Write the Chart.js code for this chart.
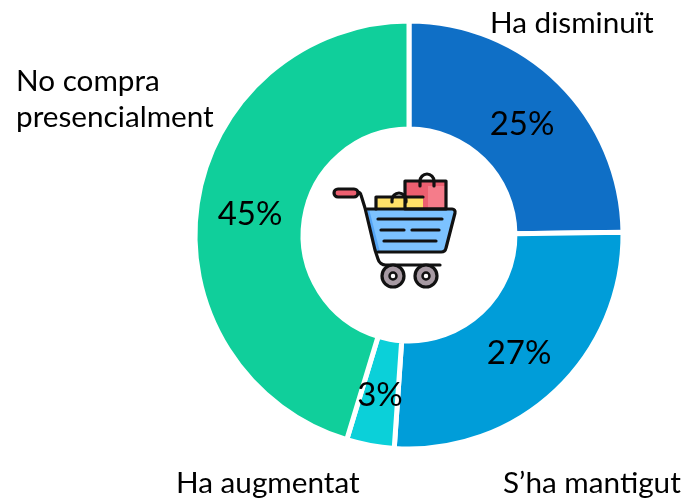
<!DOCTYPE html>
<html><head><meta charset="utf-8">
<script src="https://cdn.jsdelivr.net/npm/chart.js@4"></script>
<style>
html,body{margin:0;padding:0;background:#fff;width:687px;height:500px;overflow:hidden}
#w{position:relative;width:687px;height:500px}
#c{position:absolute;left:0;top:0}
#icon{position:absolute;left:310px;top:150px;width:170px;height:150px}
</style></head><body>
<div id="w"><canvas id="c" width="687" height="500"></canvas>
<svg id="icon" viewBox="310 150 170 150" stroke-linejoin="round" stroke-linecap="round">
 <rect x="406" y="182" width="40" height="27" fill="#ec5f70"/>
 <rect x="428" y="186" width="18" height="23" fill="#f57c8a"/>
 <rect x="376" y="197" width="47" height="12" fill="#ffe169"/>
 <path d="M367 209H452a3 3 0 0 1 3 4l-9 35a5 5 0 0 1-5 4H376l-9-40z" fill="#7cc2ff"/>
 <path d="M367 209H369L380 252H376z" fill="#55a5f5"/>
 <g stroke="#111" stroke-width="3.200" fill="none">
  <rect x="405" y="181" width="41" height="28"/>
  <path d="M420 186v-5a7 7 0 0 1 14 0v5"/>
  <path d="M376 209v-12H423"/>
  <path d="M392 202v-2a7 7 0 0 1 14 0v2"/>
  <path d="M367 209H452a3 3 0 0 1 3 4l-9 35a5 5 0 0 1-5 4H378"/>
  <path d="M378 219H442M381 230H404M412 230H439M384 241H436"/>
  <path d="M357 192a4 4 0 0 1 4 3l4 13 10 42 3 9a8 8 0 0 0 8 6H440"/>
 </g>
 <rect x="334" y="189" width="24" height="8" rx="4" fill="#ec5f70" stroke="#111" stroke-width="3.200"/>
 <g fill="#a79aa3" stroke="#111" stroke-width="3.200">
  <circle cx="393" cy="276" r="11"/>
  <circle cx="426" cy="276" r="11"/>
 </g>
 <g fill="#fff" stroke="#111" stroke-width="2.500">
  <circle cx="393" cy="276" r="3.500"/>
  <circle cx="426" cy="276" r="3.500"/>
 </g>
</svg></div>
<script>
const categories=['Ha disminuït',"S’ha mantigut",'Ha augmentat','No compra presencialment'];
const shares=[24.8,26.3,3.6,45.3];
const shownPercent=['25%','27%','3%','45%'];
const colors=['#0F6FC6','#009DD9','#0BD0D9','#10CF9B'];
const FONT='Lato, Carlito, sans-serif';
const outerLabels=[
 {lines:['Ha disminuït'],x:490,y:23},
 {lines:['S’ha mantigut'],x:503,y:483},
 {lines:['Ha augmentat'],x:176,y:483},
 {lines:['No compra','presencialment'],x:16,y:81,lh:36}
];
const percentPos=[[522,124],[519,353],[380,395],[250,214]];
const textPlugin={id:'texts',afterDraw(ch){
 const g=ch.ctx;g.save();g.fillStyle='#000';g.textBaseline='middle';
 g.font='29.700px '+FONT;g.textAlign='left';
 outerLabels.forEach(o=>o.lines.forEach((t,i)=>g.fillText(t,o.x,o.y+i*(o.lh||0))));
 g.font='33px '+FONT;g.textAlign='center';
 shownPercent.forEach((t,i)=>g.fillText(t,percentPos[i][0],percentPos[i][1]));
 g.restore();
}};
new Chart(document.getElementById('c'),{
 type:'doughnut',
 data:{labels:categories,datasets:[{data:shares,backgroundColor:colors,borderColor:'#fff',borderWidth:5,hoverOffset:0}]},
 options:{responsive:false,animation:false,cutout:'49.5%',
  layout:{padding:{left:192.5,right:61.5,top:18.5,bottom:48.5}},
  plugins:{legend:{display:false},tooltip:{enabled:false}}},
 plugins:[textPlugin]
});
</script></body></html>
